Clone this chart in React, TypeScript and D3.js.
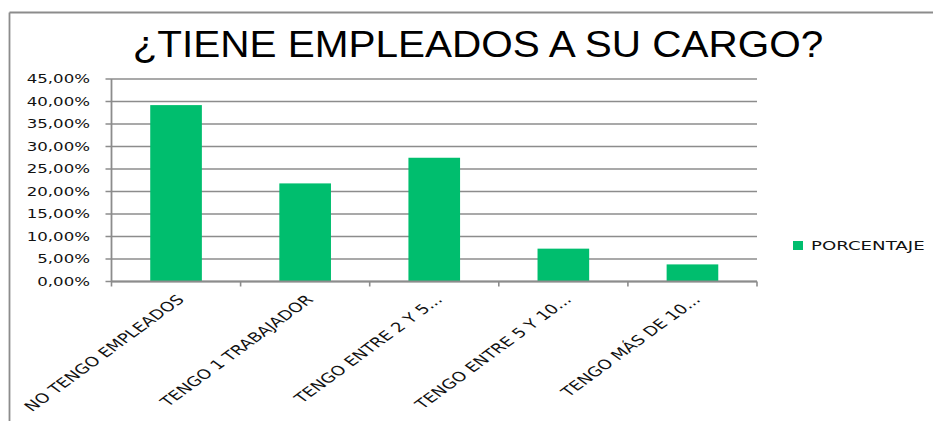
import React from "react";
import * as d3 from "d3";

const categories = [
  "NO TENGO EMPLEADOS",
  "TENGO 1 TRABAJADOR",
  "TENGO ENTRE 2 Y 5...",
  "TENGO ENTRE 5 Y 10...",
  "TENGO MÁS DE 10...",
];
const values = [0.392, 0.218, 0.275, 0.073, 0.038];
const yTicks = [0, 0.05, 0.1, 0.15, 0.2, 0.25, 0.3, 0.35, 0.4, 0.45];
const seriesName = "PORCENTAJE";
const title = "¿TIENE EMPLEADOS A SU CARGO?";

const W = 933;
const H = 421;
const left = 111.5;
const right = 757;
const top = 79;
const bottom = 281.5;
const green = "#00BE6E";
const gridColor = "#8c8c8c";

const fmt = (v: number) => (v * 100).toFixed(2).replace(".", ",") + "%";

export default function App() {
  const x = d3.scaleBand<string>().domain(categories).range([left, right]).paddingInner(0).paddingOuter(0);
  const y = d3.scaleLinear().domain([0, 0.45]).range([bottom, top]);
  const bw = x.bandwidth() * 0.4;
  const labelFont = "'DejaVu Sans', Verdana, sans-serif";

  return (
    <svg width={W} height={H} style={{ position: "absolute", left: 0, top: 0, background: "#fff" }}>
      {/* border */}
      <line x1={9.5} y1={12.5} x2={W} y2={12.5} stroke={gridColor} strokeWidth={1.8} />
      <line x1={9.5} y1={12.5} x2={9.5} y2={H} stroke={gridColor} strokeWidth={1.8} />

      <text
        x={478}
        y={57}
        textAnchor="middle"
        fontFamily="'Liberation Sans', Arial, sans-serif"
        fontSize={37.5}
        fill="#000"
        transform="translate(478,0) scale(1.08,1) translate(-478,0)"
      >
        {title}
      </text>

      {/* grid lines and y ticks */}
      {yTicks.map((t) => (
        <g key={t}>
          <line x1={left - 6} x2={right} y1={y(t)} y2={y(t)} stroke={gridColor} strokeWidth={1.6} />
          <text
            x={90}
            y={y(t)}
            dy="0.36em"
            textAnchor="end"
            fontFamily={labelFont}
            fontSize={12.5}
            fill="#111"
            transform={`translate(90,0) scale(1.33,1) translate(-90,0)`}
          >
            {fmt(t)}
          </text>
        </g>
      ))}

      {/* y axis */}
      <line x1={left} x2={left} y1={top} y2={bottom} stroke={gridColor} strokeWidth={1.8} />

      {/* bars */}
      {categories.map((c, i) => (
        <rect
          key={c}
          x={(x(c) as number) + (x.bandwidth() - bw) / 2}
          y={y(values[i])}
          width={bw}
          height={bottom - y(values[i])}
          fill={green}
        />
      ))}

      {/* x axis */}
      <line x1={left} x2={right} y1={bottom} y2={bottom} stroke={gridColor} strokeWidth={1.8} />
      {[...categories.map((c) => x(c) as number), right].map((tx, i) => (
        <line key={i} x1={tx} x2={tx} y1={bottom} y2={bottom + 5} stroke={gridColor} strokeWidth={1.6} />
      ))}

      {/* category labels */}
      {categories.map((c) => {
        const cx = (x(c) as number) + x.bandwidth() / 2 + 9;
        return (
          <text
            key={c}
            transform={`translate(${cx},${bottom + 19}) scale(1.37,1) rotate(-45)`}
            textAnchor="end"
            fontFamily={labelFont}
            fontSize={13.3}
            fill="#111"
          >
            {c}
          </text>
        );
      })}

      {/* legend */}
      <rect x={793} y={241} width={10} height={9} fill={green} />
      <text
        x={811}
        y={250}
        fontFamily={labelFont}
        fontSize={12.8}
        fill="#111"
        transform="translate(811,0) scale(1.42,1) translate(-811,0)"
      >
        {seriesName}
      </text>
    </svg>
  );
}
